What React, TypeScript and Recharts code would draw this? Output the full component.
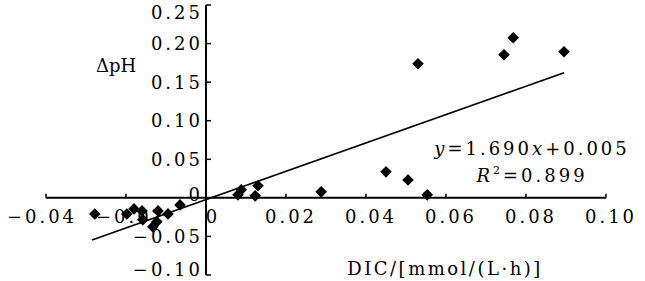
import React from 'react';
import { ScatterChart, Scatter, XAxis, YAxis, ReferenceLine, ReferenceDot } from 'recharts';

// DIC (x) and ΔpH (y)
const dicValues = [
  -0.0278, -0.0198, -0.018, -0.016, -0.0158, -0.0133, -0.012, -0.0123, -0.0095, -0.0065,
  0.0088, 0.008, 0.013, 0.0123, 0.0288, 0.045, 0.0505, 0.0553, 0.053, 0.0745, 0.0768, 0.0895,
];
const dphValues = [
  -0.021, -0.021, -0.0143, -0.0169, -0.0285, -0.0376, -0.0169, -0.0311, -0.0208, -0.0091,
  0.0104, 0.0039, 0.0156, 0.0026, 0.0078, 0.0337, 0.0233, 0.0039, 0.1738, 0.1855, 0.2075, 0.1894,
];

// fitted trend line end points
const fitDic = [-0.0285, 0.0895];
const fitDph = [-0.0545, 0.1621];

const xTicks = [-0.04, -0.02, 0, 0.02, 0.04, 0.06, 0.08, 0.1];
const xTickLabels = ['\u22120.04', '\u22120.02', '0', '0.02', '0.04', '0.06', '0.08', '0.10'];
const yTicks = [-0.1, -0.05, 0, 0.05, 0.1, 0.15, 0.2, 0.25];
const yTickLabels = ['\u22120.10', '\u22120.05', '0', '0.05', '0.10', '0.15', '0.20', '0.25'];

const xDomain = [-0.04, 0.1];
const yDomain = [-0.1, 0.25];

const FONT = '"DejaVu Serif", "Liberation Serif", serif';
const FS = 18;
const LS = 3;

const points = dicValues.map((x, i) => ({ x, y: dphValues[i] }));

const Diamond = (p: any) => {
  const { cx, cy } = p;
  const s = 5.8;
  return (
    <polygon
      points={`${cx},${cy - s} ${cx + s},${cy} ${cx},${cy + s} ${cx - s},${cy}`}
      fill="#000"
    />
  );
};

const makeXTick = (label: string, value: number) => (p: any) => {
  const { cx, cy } = p;
  const isZero = value === 0;
  const shift = isZero ? 7 : value < -0.03 ? -4 : 5;
  return (
    <g>
      {!isZero && <line x1={cx} y1={cy} x2={cx} y2={cy - 4} stroke="#000" strokeWidth={1.5} />}
      <text
        x={cx + shift}
        y={cy + 25}
        textAnchor="middle"
        fontFamily={FONT}
        fontSize={FS}
        letterSpacing={LS}
        fill="#000"
      >
        {label}
      </text>
    </g>
  );
};

const makeYTick = (label: string, isZero: boolean) => (p: any) => {
  const { cx, cy } = p;
  const base = Math.min(Math.max(cy + (isZero ? 3 : 6.5), 19), 276);
  return (
    <g>
      {!isZero && <line x1={cx} y1={cy} x2={cx + 5} y2={cy} stroke="#000" strokeWidth={1.5} />}
      <text
        x={cx - 3}
        y={base}
        textAnchor="end"
        fontFamily={FONT}
        fontSize={FS}
        letterSpacing={LS}
        fill="#000"
      >
        {label}
      </text>
    </g>
  );
};

export default function App() {
  return (
    <div style={{ position: 'absolute', left: 0, top: 0, background: '#fff' }}>
      <ScatterChart
        width={645}
        height={281}
        margin={{ top: 5, right: 39, bottom: 6, left: 46 }}
      >
        <XAxis type="number" dataKey="x" domain={xDomain} hide allowDataOverflow />
        <YAxis type="number" dataKey="y" domain={yDomain} hide allowDataOverflow />
        <ReferenceLine
          segment={[{ x: xDomain[0], y: 0 }, { x: xDomain[1], y: 0 }]}
          stroke="#000"
          strokeWidth={2}
          ifOverflow="visible"
        />
        <ReferenceLine
          segment={[{ x: 0, y: yDomain[0] }, { x: 0, y: yDomain[1] }]}
          stroke="#000"
          strokeWidth={2}
          ifOverflow="visible"
        />
        {xTicks.map((v, i) => (
          <ReferenceDot
            key={'xt' + i}
            x={v}
            y={0}
            r={0}
            ifOverflow="visible"
            shape={makeXTick(xTickLabels[i], v)}
          />
        ))}
        {yTicks.map((v, i) => (
          <ReferenceDot
            key={'yt' + i}
            x={0}
            y={v}
            r={0}
            ifOverflow="visible"
            shape={makeYTick(yTickLabels[i], v === 0)}
          />
        ))}
        <ReferenceLine
          segment={[{ x: fitDic[0], y: fitDph[0] }, { x: fitDic[1], y: fitDph[1] }]}
          stroke="#000"
          strokeWidth={1.6}
          ifOverflow="visible"
        />
        <Scatter data={points} shape={Diamond} isAnimationActive={false} />
        <text x={96} y={72} fontFamily={FONT} fontSize={FS} fill="#000">
          ΔpH
        </text>
        <text
          x={445}
          y={275}
          textAnchor="middle"
          fontFamily={FONT}
          fontSize={FS}
          letterSpacing={2.5}
          fill="#000"
        >
          DIC/[mmol/(L·h)]
        </text>
        <text
          x={532}
          y={155}
          textAnchor="middle"
          fontFamily={FONT}
          fontSize={FS}
          letterSpacing={LS}
          fill="#000"
        >
          <tspan fontStyle="italic">y</tspan>=1.690<tspan fontStyle="italic">x</tspan>+0.005
        </text>
        <text
          x={532}
          y={182}
          textAnchor="middle"
          fontFamily={FONT}
          fontSize={FS}
          letterSpacing={LS}
          fill="#000"
        >
          <tspan fontStyle="italic">R</tspan>
          <tspan fontSize={11} dy={-8}>2</tspan>
          <tspan dy={8}>=0.899</tspan>
        </text>
      </ScatterChart>
    </div>
  );
}
